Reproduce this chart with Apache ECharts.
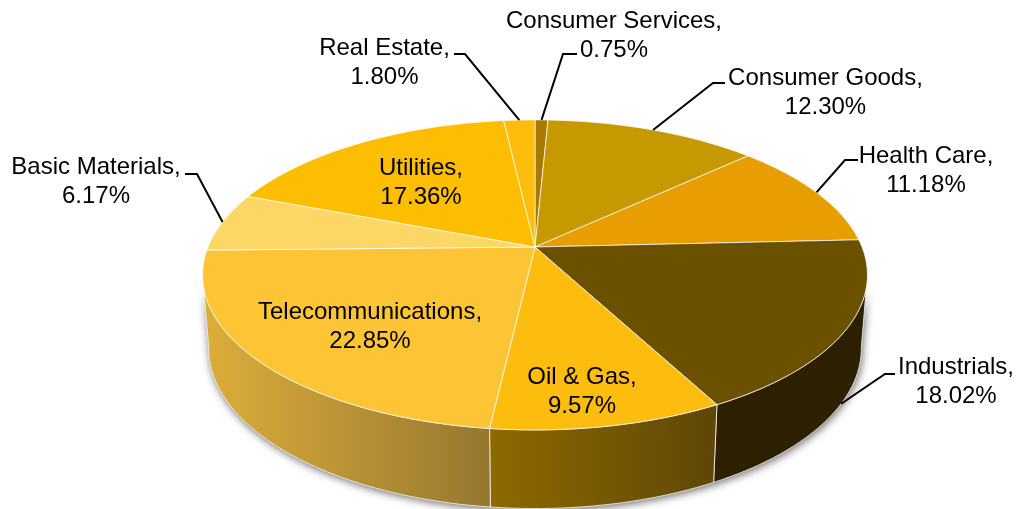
<!DOCTYPE html>
<html>
<head>
<meta charset="utf-8">
<title>Sector weights</title>
<style>
  html, body { margin: 0; padding: 0; background: #fff; }
  #chart { width: 1016px; height: 509px; }
</style>
<script src="https://cdn.jsdelivr.net/npm/echarts@6/dist/echarts.min.js"></script>
</head>
<body>
<div id="chart"></div>
<script>
// data, clockwise from 12 o'clock
const categories = ['Consumer Services', 'Consumer Goods', 'Health Care', 'Industrials', 'Oil & Gas',
  'Telecommunications', 'Basic Materials', 'Utilities', 'Real Estate']
const weights = [0.75, 12.30, 11.18, 18.02, 9.57, 22.85, 6.17, 17.36, 1.80]

// colours of the top face
const topColors = ['#a87b00', '#c79900', '#e89d00', '#6b5000', '#fcbd0e', '#fdc535', '#fdd766', '#fdbd00', '#fdbd0d']
// left/right colours of the side wall
const wallColors = [null, null, null, ['#2c2000', '#2c2000'], ['#8f6a00', '#5e4606'], ['#dcae3a', '#967730'], null, null, null]

// label centre + leader elbow, null elbow = label sits on the slice
const labelPos = [[614, 36], [825.5, 93], [926, 171], [956, 382], [582, 392], [370, 327], [96, 182], [421, 183], [384.5, 63]]
const elbows = [[[577, 54], [563, 54]], [[725, 83], [713, 83]], [[858, 160], [845, 160]], [[895, 374], [885, 374]], null, null,
  [[185, 174], [197, 174]], null, [[454, 54], [465, 54]]]

// perspective ellipse of the two rims
const persp = 0.18
const topRim = { cx: 535, cy: 247, a: 327, b: 150 }
const bottomRim = { cx: 535, cy: 319.5, a: 321, b: 155 }
// only this part of the side can be seen (degrees)
const wallFrom = 100
const wallTo = 260

function rimPoint(rim, deg) {
  const t = deg * Math.PI / 180
  const x = Math.sin(t)
  const y = Math.cos(t)
  const d = 1 + persp * y
  return [rim.cx + rim.a * x / d, rim.cy - rim.b * y / d]
}

function arcPoints(rim, from, to) {
  const pts = []
  const n = Math.max(2, Math.ceil(Math.abs(to - from) / 1.5))
  for (let i = 0; i <= n; i++) pts.push(rimPoint(rim, from + (to - from) * i / n))
  return pts
}

function wallPolygon(from, to, style, z2) {
  return {
    type: 'polygon',
    z2: z2,
    shape: { points: arcPoints(topRim, from, to).concat(arcPoints(bottomRim, to, from)) },
    style: style
  }
}

const total = weights.reduce((s, v) => s + v, 0)
const starts = []
weights.reduce((s, v, i) => { starts[i] = s; return s + v }, 0)

function renderSlice(params) {
  const i = params.dataIndex
  const a0 = starts[i] / total * 360
  const a1 = (starts[i] + weights[i]) / total * 360
  const mid = (a0 + a1) / 2
  const children = []

  // soft shadow below the whole wall
  if (i === 0) {
    children.push(wallPolygon(wallFrom, wallTo, {
      fill: '#888',
      shadowBlur: 8,
      shadowOffsetX: 1,
      shadowOffsetY: 2,
      shadowColor: 'rgba(0,0,0,0.6)'
    }, 0))
  }

  // side wall
  const w0 = Math.max(a0, wallFrom)
  const w1 = Math.min(a1, wallTo)
  if (wallColors[i] && w1 > w0) {
    children.push(wallPolygon(w0, w1, {
      fill: new echarts.graphic.LinearGradient(0, 0, 1, 0, [
        { offset: 0, color: wallColors[i][0] },
        { offset: 1, color: wallColors[i][1] }
      ]),
      stroke: 'rgba(255,255,255,0.75)',
      lineWidth: 1
    }, 1))
  }

  // top face
  children.push({
    type: 'polygon',
    z2: 2,
    shape: { points: [[topRim.cx, topRim.cy]].concat(arcPoints(topRim, a0, a1)) },
    style: { fill: topColors[i], stroke: 'rgba(255,255,255,0.7)', lineWidth: 1 }
  })

  // leader line: ends on the rim, the lower one if the slice midpoint is on the wall
  if (elbows[i]) {
    const end = rimPoint(mid > wallFrom && mid < wallTo ? bottomRim : topRim, mid)
    children.push({
      type: 'polyline',
      z2: 3,
      shape: { points: elbows[i].concat([end]) },
      style: { fill: null, stroke: '#000', lineWidth: 2 }
    })
  }

  children.push({
    type: 'text',
    z2: 4,
    style: {
      text: categories[i] + ',\n' + weights[i].toFixed(2) + '%',
      x: labelPos[i][0],
      y: labelPos[i][1],
      align: 'center',
      verticalAlign: 'middle',
      fill: '#000',
      font: '24px "Liberation Sans", Arial, sans-serif',
      lineHeight: 28.5
    }
  })

  return { type: 'group', children: children }
}

const chart = echarts.init(document.getElementById('chart'), null, { renderer: 'canvas' })
chart.setOption({
  animation: false,
  backgroundColor: '#fff',
  series: [{
    type: 'custom',
    coordinateSystem: 'none',
    silent: true,
    clip: false,
    renderItem: renderSlice,
    data: weights.map((v, i) => ({ name: categories[i], value: v }))
  }]
})
</script>
</body>
</html>
